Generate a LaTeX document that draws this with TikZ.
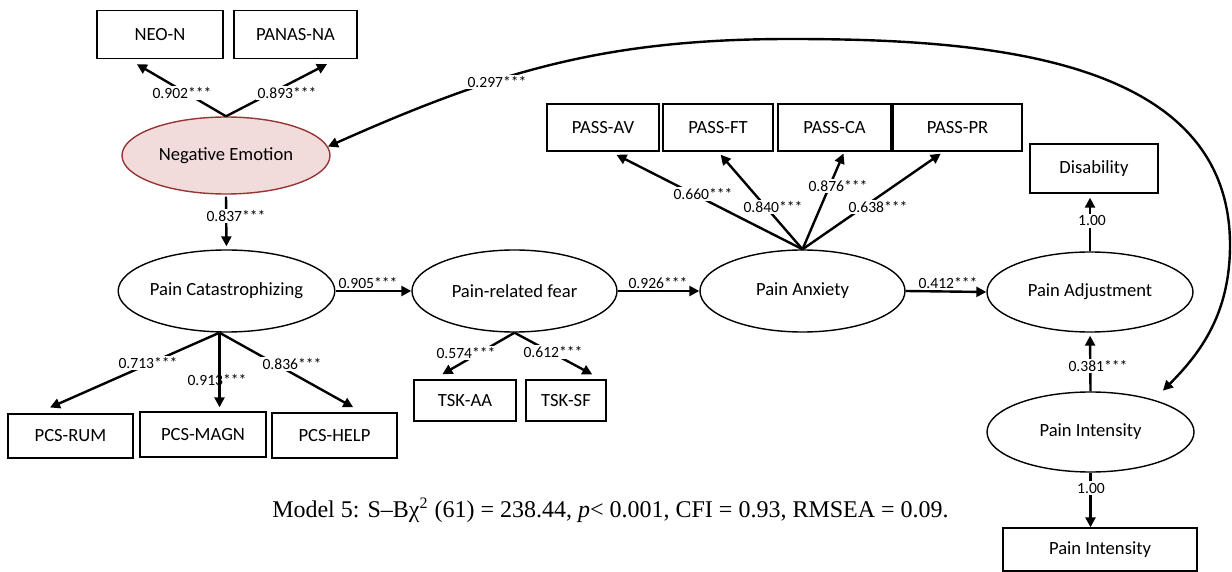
\documentclass[tikz,border=0pt]{standalone}
\usepackage{fontspec}
\setmainfont{Carlito}
\newfontfamily\capfont{Liberation Serif}
\usetikzlibrary{shapes.geometric,arrows.meta}
\newcommand{\nf}{\fontsize{9.3}{11}\selectfont}
\newcommand{\cf}{\fontsize{7.8}{9}\selectfont}
\definecolor{emofill}{RGB}{242,220,219}
\definecolor{emodraw}{RGB}{150,54,52}
\tikzset{
  box/.style={draw, line width=0.7pt, minimum height=24pt, inner sep=0pt, font=\nf},
  latent/.style={draw, ellipse, line width=0.7pt, minimum width=103.5pt, minimum height=41pt, inner sep=0pt, font=\nf},
  path/.style={line width=1.2pt, -{Triangle[length=5pt,width=5pt]}},
  cov/.style={line width=1.2pt, {Triangle[length=5pt,width=5pt]}-{Triangle[length=5pt,width=5pt]}},
  coef/.style={fill=white, inner sep=0.8pt, font=\cf},
  coefx/.style={inner sep=0.8pt, font=\cf}
}

\begin{document}
\begin{tikzpicture}[x=0.5pt,y=0.5pt]
   \useasboundingbox (0,0) rectangle (1232,-572);
   \node[box, minimum width=63pt] (neo) at (160,-34.5) {NEO-N};
   \node[box, minimum width=61.5pt] (panas) at (295.5,-34.5) {PANAS-NA};
   \node[latent, fill=emofill, draw=emodraw, minimum width=104pt, minimum height=38.5pt] (ne) at (226,-155.5) {Negative Emotion};
   \node[latent] (pc) at (226.5,-291) {Pain Catastrophizing};
   \node[latent, minimum width=102.5pt] (prf) at (514.5,-291) {Pain-related fear};
   \node[latent, minimum width=102.5pt] (pa) at (802.5,-291) {Pain Anxiety};
   \node[latent, minimum width=103pt, minimum height=40pt] (padj) at (1090,-292) {Pain Adjustment};
   \node[latent, minimum height=40pt] (pi) at (1090.5,-432) {Pain Intensity};
   \node[box, minimum width=56pt, minimum height=23.5pt] (passav) at (603,-127.5) {PASS-AV};
   \node[box, minimum width=55pt, minimum height=23.5pt] (passft) at (718,-127.5) {PASS-FT};
   \node[box, minimum width=56.5pt, minimum height=23.5pt] (passca) at (834.5,-127.5) {PASS-CA};
   \node[box, minimum width=64.5pt, minimum height=23.5pt] (passpr) at (957.5,-127.5) {PASS-PR};
   \node[box, minimum width=64pt, minimum height=24.5pt] (disab) at (1094,-168.5) {Disability};
   \node[box, minimum width=62.5pt, minimum height=22pt] (pcsrum) at (70.5,-436) {PCS-RUM};
   \node[box, minimum width=63pt, minimum height=22.5pt] (pcsmagn) at (203,-434.5) {PCS-MAGN};
   \node[box, minimum width=62.5pt, minimum height=22.5pt] (pcshelp) at (334.5,-435.5) {PCS-HELP};
   \node[box, minimum width=51pt, minimum height=20.5pt] (tskaa) at (465,-400.5) {TSK-AA};
   \node[box, minimum width=40pt, minimum height=20.5pt] (tsksf) at (566,-400.5) {TSK-SF};
   \node[box, minimum width=97pt, minimum height=21.5pt] (pibox) at (1100,-549.5) {Pain Intensity};
   \coordinate (pcx) at ([xshift=-3.5pt]pc.south);
   \coordinate (arctop) at (790,-39);
   \coordinate (arcright) at (1230,-245);

   \draw[path, shorten >=4.9pt] (ne.north) -- (neo.218);
   \draw[path, shorten >=5.4pt] (ne.north) -- (panas.329);
   \draw[path, shorten <=1pt, shorten >=1.5pt] (ne.south) -- (pc.north);
   \draw[path] (pc.east) -- (prf.west);
   \draw[path] (prf.east) -- (pa.west);
   \draw[path] (pa.east) -- (padj.west);
   \draw[path, shorten >=7.2pt] (pcx) -- (pcsrum.146);
   \draw[path, shorten >=2pt] (pcx) -- (pcx |- pcsmagn.north);
   \draw[path, shorten >=5.1pt] (pcx) -- (pcshelp.40);
   \draw[path, shorten >=5.1pt] (prf.south) -- (tskaa.146);
   \draw[path, shorten >=5.1pt] (prf.south) -- (tsksf.31);
   \draw[path, shorten >=3.4pt] (pa.north) -- (passav.287);
   \draw[path, shorten >=2pt] (pa.north) -- (passft.south);
   \draw[path, shorten >=1pt] (pa.north) -- (passca.292);
   \draw[path, shorten >=1.7pt] (pa.north) -- (passpr.240);
   \draw[path, shorten >=2pt] (padj.north) -- (padj.north |- disab.south);
   \draw[path, shorten >=1.5pt] (pi.north) -- (padj.south);
   \draw[path] (pi.south) -- (pi.south |- pibox.north);
   \draw[cov, shorten >=6.4pt] (ne.5) to[out=24,in=180] (arctop) to[out=0,in=90] (arcright) to[out=-90,in=45] (pi.27);

   \node[coef] (l1) at (182,-93) {0.902***};
   \node[coef] (l2) at (287,-93) {0.893***};
   \node[coef] (l3) at (236,-216) {0.837***};
   \node[coef] (l4) at (497,-82) {0.297***};
   \node[coefx] (l5) at (368,-283) {0.905***};
   \node[coefx] (l6) at (658,-283) {0.926***};
   \node[coefx] (l7) at (948,-283) {0.412***};
   \node[coef] (l8) at (148,-363) {0.713***};
   \node[coefx] (l9) at (217,-380) {0.913***};
   \node[coef] (l10) at (292,-364) {0.836***};
   \node[coef] (l11) at (466,-353) {0.574***};
   \node[coef] (l12) at (553,-352) {0.612***};
   \node[coef] (l13) at (703,-194) {0.660***};
   \node[coef] (l14) at (773,-207) {0.840***};
   \node[coef] (l15) at (838,-186) {0.876***};
   \node[coef] (l16) at (878,-207) {0.638***};
   \node[coef] (l17) at (1092,-221) {1.00};
   \node[coef] (l18) at (1098,-366) {0.381***};
   \node[coef] (l19) at (1091,-488) {1.00};
   \node[font=\capfont\fontsize{12}{14}\selectfont, inner sep=0pt] (fit) at (610.5,-510) {Model 5: S–Bχ\textsuperscript{2} (61) = 238.44, \textit{p}< 0.001, CFI = 0.93, RMSEA = 0.09.};
\end{tikzpicture}
\end{document}
